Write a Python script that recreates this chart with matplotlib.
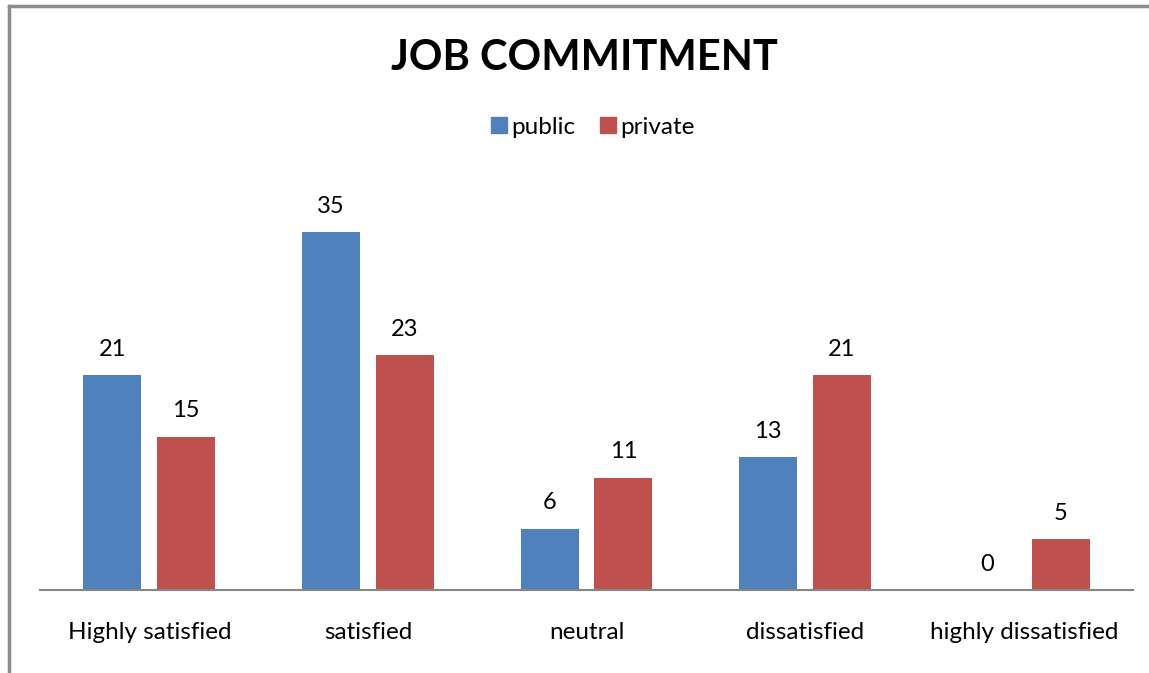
import numpy as np
import matplotlib
matplotlib.use('Agg')
import matplotlib.pyplot as plt
from matplotlib.lines import Line2D

categories = ['Highly satisfied', 'satisfied', 'neutral', 'dissatisfied', 'highly dissatisfied']
public = [21, 35, 6, 13, 0]
private = [15, 23, 11, 21, 5]

plt.rcParams['font.family'] = ['Lato', 'DejaVu Sans']

fig = plt.figure(figsize=(11.49, 6.73), dpi=100)
ax = fig.add_axes([40 / 1149, (673 - 590) / 673, 1093 / 1149, 409 / 673])

x = np.arange(len(categories))
w = 0.265
off = (w + 0.073) / 2
b1 = ax.bar(x - off, public, w, color='#4f81bd', label='public')
b2 = ax.bar(x + off, private, w, color='#c0504d', label='private')

for bars in (b1, b2):
    for rect in bars:
        h = rect.get_height()
        ax.annotate(f'{h:g}', (rect.get_x() + rect.get_width() / 2, h),
                    xytext=(0, 11), textcoords='offset points',
                    ha='center', va='bottom', fontsize=17)

ax.set_xlim(-0.5, len(categories) - 0.5)
ax.set_ylim(0, 40)
ax.set_xticks(x)
ax.set_xticklabels(categories, fontsize=17.5)
ax.tick_params(axis='x', length=0, pad=23)
ax.set_yticks([])
for s in ('top', 'right', 'left'):
    ax.spines[s].set_visible(False)
ax.spines['bottom'].set_color('#868686')
ax.spines['bottom'].set_linewidth(1.5)

fig.text(0.509, 1 - 58 / 673, 'JOB COMMITMENT', ha='center', va='center',
         fontsize=30, fontweight='bold')

handles = [Line2D([], [], marker='s', ls='', markersize=11, color='#4f81bd'),
           Line2D([], [], marker='s', ls='', markersize=11, color='#c0504d')]
fig.legend(handles, ['public', 'private'], loc='center',
           bbox_to_anchor=(0.515, 1 - 127 / 673), ncol=2, frameon=False,
           fontsize=17.5, handletextpad=0.05, columnspacing=0.9, handlelength=0.9)

# outer frame on the top and left edges
fig.add_artist(Line2D([9 / 1149, 9 / 1149], [0, 1 - 6 / 673], transform=fig.transFigure,
                      color='#8c8c8c', lw=2.5))
fig.add_artist(Line2D([9 / 1149, 1], [1 - 6 / 673, 1 - 6 / 673], transform=fig.transFigure,
                      color='#8c8c8c', lw=2.5))

fig.savefig('out.png', dpi=100)
